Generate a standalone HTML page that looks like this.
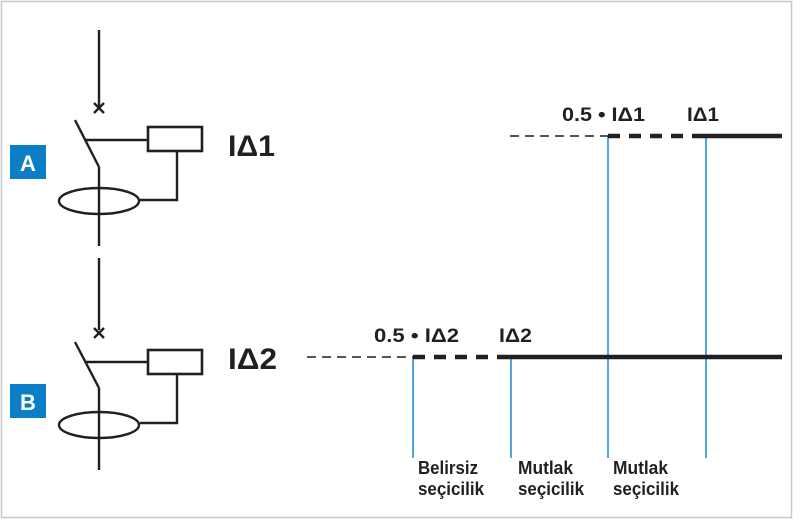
<!DOCTYPE html>
<html><head><meta charset="utf-8"><style>
html,body{margin:0;padding:0;background:#fff}
svg{display:block}
text{font-family:"Liberation Sans",sans-serif;font-weight:bold;fill:#231f20}
</style></head><body>
<svg width="800" height="524" viewBox="0 0 800 524" xmlns="http://www.w3.org/2000/svg">
<rect x="1.5" y="1.5" width="790" height="516" fill="#fff" stroke="#c8c8c8" stroke-width="1.5"/>
<g stroke="#231f20" stroke-width="2.4" fill="none">
<line x1="99" y1="30" x2="99" y2="108"/>
<line x1="94" y1="103" x2="104" y2="113"/><line x1="104" y1="103" x2="94" y2="113"/>
<line x1="75" y1="120" x2="99" y2="167"/>
<line x1="99" y1="167" x2="99" y2="246"/>
<line x1="86" y1="140" x2="148" y2="140"/>
<rect x="148" y="127" width="54" height="24" stroke-width="2.6"/>
<polyline points="177,151 177,200 140,200"/>
<ellipse cx="99" cy="201" rx="40" ry="13"/>
<line x1="99" y1="258" x2="99" y2="330"/>
<line x1="94" y1="328" x2="104" y2="338"/><line x1="104" y1="328" x2="94" y2="338"/>
<line x1="75" y1="342" x2="99" y2="388"/>
<line x1="99" y1="388" x2="99" y2="470"/>
<line x1="86" y1="362" x2="148" y2="362"/>
<rect x="148" y="350" width="54" height="24" stroke-width="2.6"/>
<polyline points="177,374 177,423 140,423"/>
<ellipse cx="99" cy="425" rx="40" ry="13"/>
</g>
<rect x="10" y="145" width="36" height="34" fill="#0a7ec6"/>
<text x="28" y="171" font-size="22" text-anchor="middle" style="fill:#fff">A</text>
<rect x="10" y="384" width="36" height="34" fill="#0a7ec6"/>
<text x="28" y="410" font-size="22" text-anchor="middle" style="fill:#fff">B</text>
<text x="228" y="156" font-size="30" textLength="47" lengthAdjust="spacingAndGlyphs">IΔ1</text>
<text x="228" y="369" font-size="30" textLength="49" lengthAdjust="spacingAndGlyphs">IΔ2</text>
<g stroke="#1a8ad4" stroke-width="1.5">
<line x1="608" y1="136" x2="608" y2="458"/>
<line x1="706" y1="136" x2="706" y2="458"/>
<line x1="413" y1="357" x2="413" y2="458"/>
<line x1="511" y1="357" x2="511" y2="458"/>
</g>
<g stroke="#231f20">
<line x1="510" y1="136" x2="608" y2="136" stroke-width="1.5" stroke-dasharray="9,6"/>
<line x1="608" y1="136" x2="700" y2="136" stroke-width="4.5" stroke-dasharray="12,9"/>
<line x1="700" y1="136" x2="782" y2="136" stroke-width="4.5"/>
<line x1="307" y1="357" x2="413" y2="357" stroke-width="1.5" stroke-dasharray="9,6"/>
<line x1="413" y1="357" x2="506" y2="357" stroke-width="4.5" stroke-dasharray="12,9"/>
<line x1="506" y1="357" x2="782" y2="357" stroke-width="4.5"/>
</g>
<text x="562" y="121" font-size="19" textLength="83" lengthAdjust="spacingAndGlyphs">0.5 • IΔ1</text>
<text x="687" y="121" font-size="19" textLength="32" lengthAdjust="spacingAndGlyphs">IΔ1</text>
<text x="374" y="342" font-size="19" textLength="85" lengthAdjust="spacingAndGlyphs">0.5 • IΔ2</text>
<text x="499" y="342" font-size="19" textLength="33" lengthAdjust="spacingAndGlyphs">IΔ2</text>
<g font-size="18">
<text x="418" y="474" textLength="60" lengthAdjust="spacingAndGlyphs">Belirsiz</text>
<text x="418" y="495" textLength="66" lengthAdjust="spacingAndGlyphs">seçicilik</text>
<text x="518" y="474" textLength="55" lengthAdjust="spacingAndGlyphs">Mutlak</text>
<text x="518" y="495" textLength="66" lengthAdjust="spacingAndGlyphs">seçicilik</text>
<text x="613" y="474" textLength="55" lengthAdjust="spacingAndGlyphs">Mutlak</text>
<text x="613" y="495" textLength="66" lengthAdjust="spacingAndGlyphs">seçicilik</text>
</g>
</svg>
</body></html>
